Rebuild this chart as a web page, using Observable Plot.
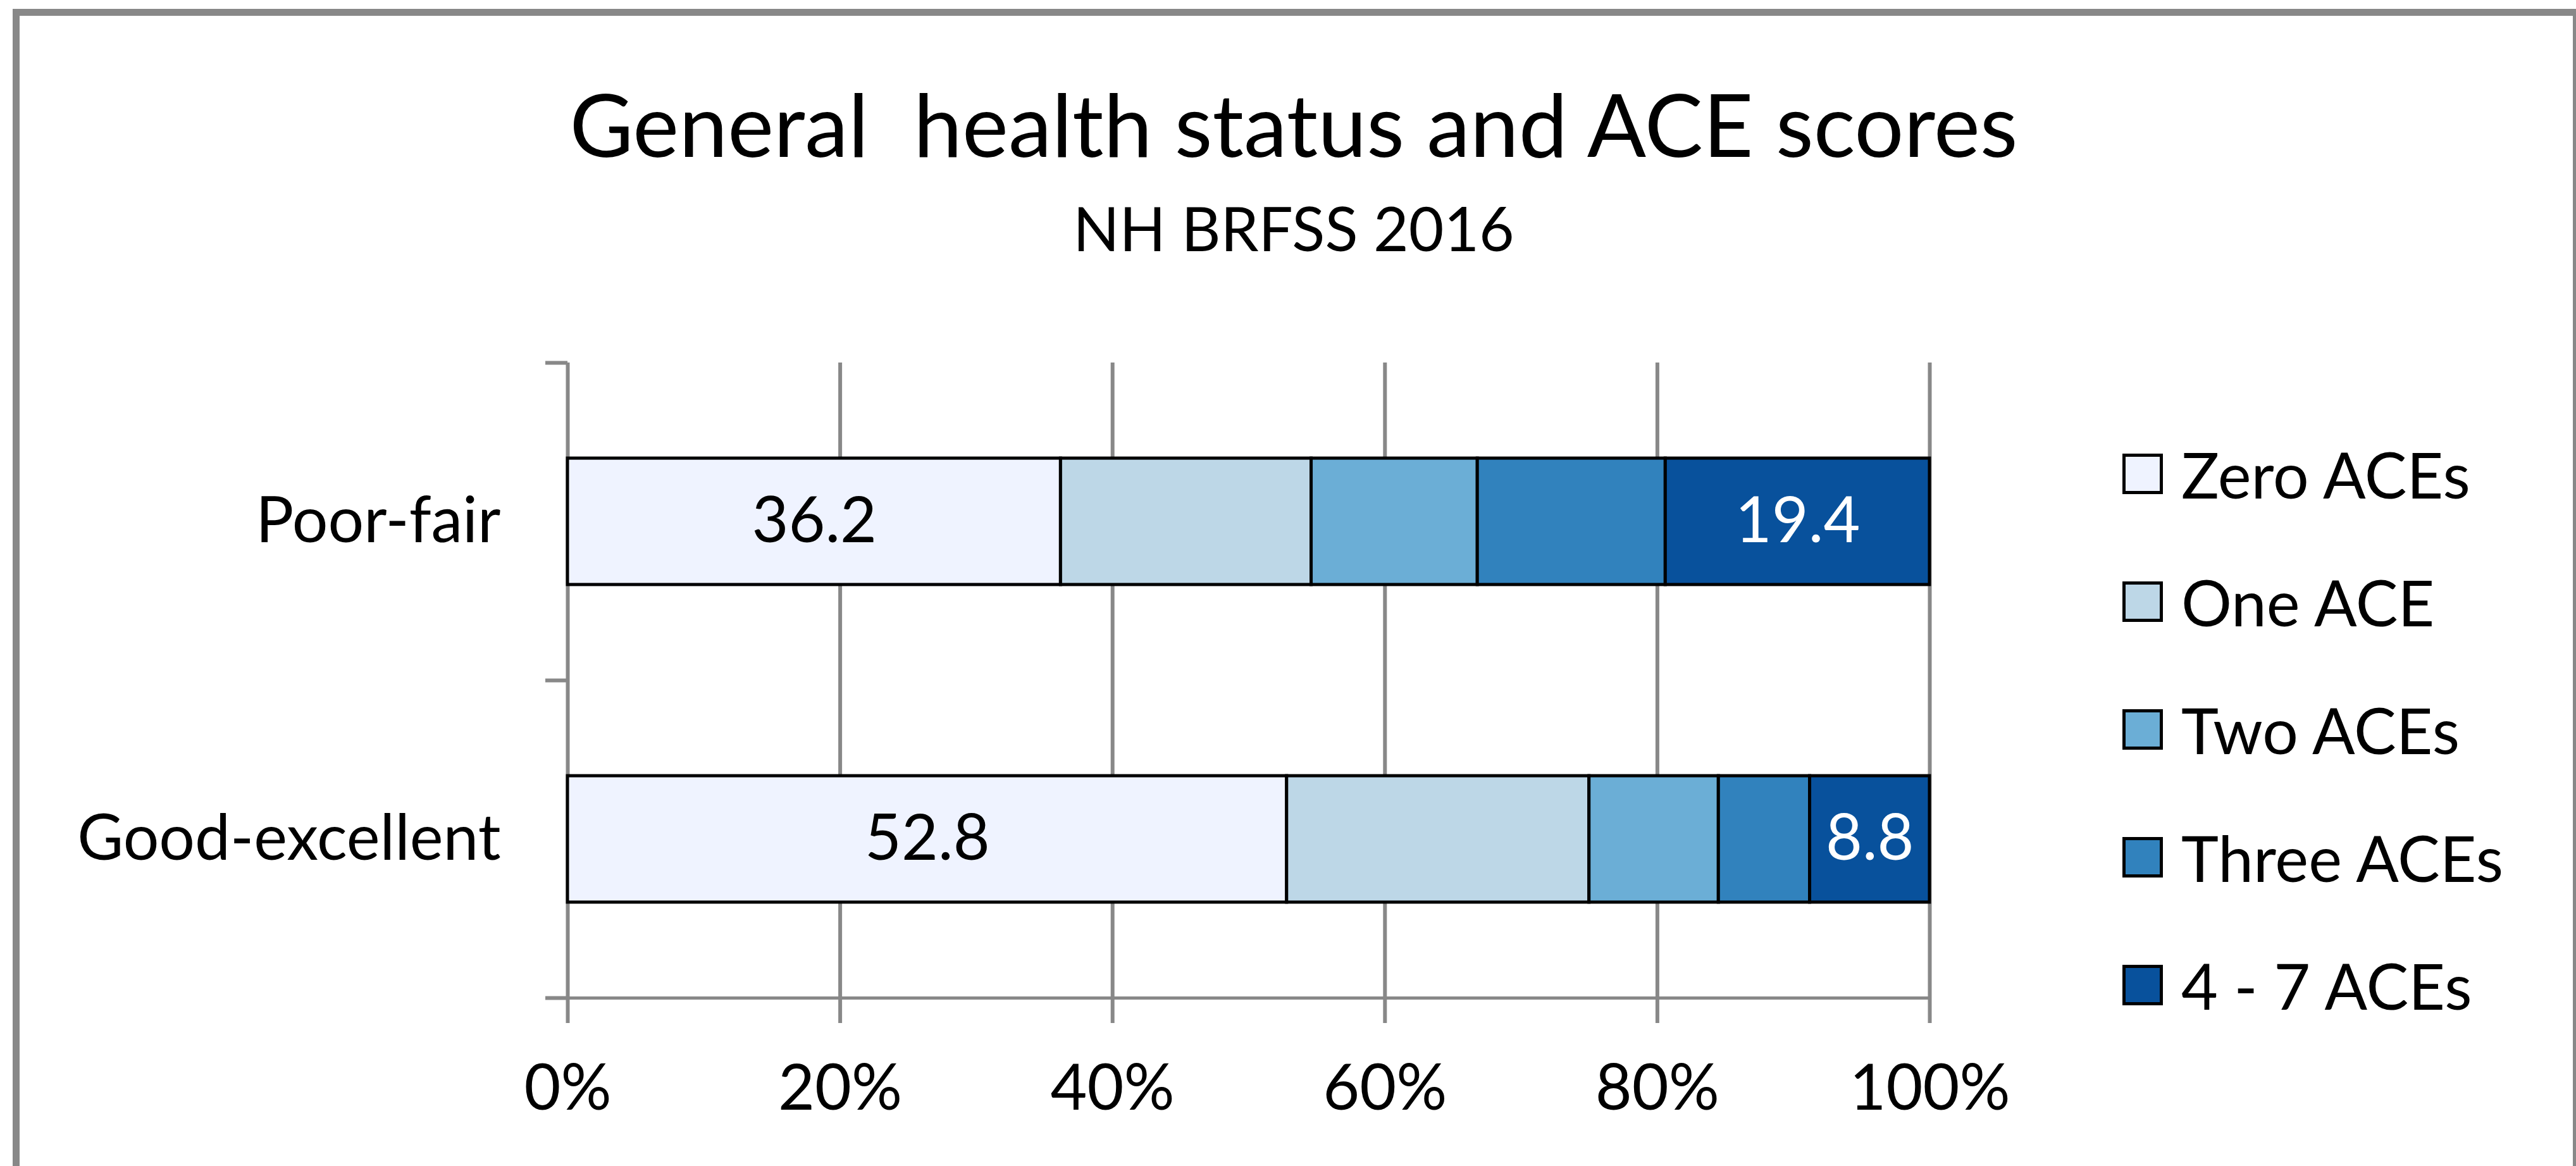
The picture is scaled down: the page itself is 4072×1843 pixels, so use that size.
<!DOCTYPE html>
<html>
<head>
<meta charset="utf-8">
<script src="https://cdn.jsdelivr.net/npm/d3@7"></script>
<script src="https://cdn.jsdelivr.net/npm/@observablehq/plot@0.6"></script>
<style>
  html, body { margin: 0; padding: 0; background: #fff; }
  body { width: 4072px; height: 1843px; overflow: hidden; position: relative; font-family: Lato, "Open Sans", sans-serif; color: #000; }
  #frame { position: absolute; left: 20px; top: 14px; width: 4058px; height: 1900px; box-sizing: border-box; border: 11px solid #888; }
  #title { position: absolute; left: 0; width: 4090px; top: 126px; text-align: center; font-size: 138px; line-height: 138px; white-space: pre; }
  #subtitle { position: absolute; left: 0; width: 4090px; top: 312px; text-align: center; font-size: 96px; line-height: 96px; }
  #chart { position: absolute; left: 0; top: 480px; }
  #chart svg { background: transparent !important; }
  #legend { position: absolute; left: 3355px; top: 0; }
  .item { position: absolute; left: 0; display: flex; align-items: center; white-space: nowrap; }
  .sw { width: 64px; height: 64px; box-sizing: border-box; border: 5px solid #000; flex: none; }
  .lab { margin-left: 29px; font-size: 100px; line-height: 100px; }
</style>
</head>
<body>
<div id="frame"></div>
<div id="title">General  health status and ACE scores</div>
<div id="subtitle">NH BRFSS 2016</div>
<div id="chart"></div>
<div id="legend"></div>
<script>
// ---- data ----
const categories = ["Poor-fair", "Good-excellent"];
const series = ["Zero ACEs", "One ACE", "Two ACEs", "Three ACEs", "4 - 7 ACEs"];
const poorFair = [36.2, 18.4, 12.2, 13.8, 19.4];
const goodExcellent = [52.8, 22.2, 9.5, 6.7, 8.8];
const labelledSeries = ["Zero ACEs", "4 - 7 ACEs"];
const xTicks = [0, 20, 40, 60, 80, 100];
const colors = ["#eff3ff", "#bdd7e7", "#6baed6", "#3182bd", "#08519c"];

// ---- build table ----
const valuesByCategory = [poorFair, goodExcellent];
const rows = [];
categories.forEach((cat, ci) => {
  const vals = valuesByCategory[ci];
  const ends = d3.cumsum(vals);
  vals.forEach((v, si) => {
    rows.push({category: cat, row: ci, series: series[si], value: v, x1: ends[si] - v, x2: ends[si]});
  });
});

const half = 0.199; // half bar thickness in row units
const colorOf = new Map(series.map((s, i) => [s, colors[i]]));

const plot = Plot.plot({
  width: 3150,
  height: 1363,
  marginLeft: 897,
  marginRight: 100,
  marginTop: 93,
  marginBottom: 266,
  style: {background: "transparent", fontFamily: "Lato, 'Open Sans', sans-serif", color: "#000", overflow: "visible"},
  x: {domain: [0, 100]},
  y: {domain: [0, categories.length], reverse: true},
  color: {domain: series, range: colors},
  marks: [
    Plot.ruleX(xTicks, {stroke: "#888", strokeWidth: 6}),
    Plot.ruleY([categories.length], {stroke: "#888", strokeWidth: 5}),
    Plot.axisX({ticks: xTicks, tickSize: 40, tickPadding: 65, tickFormat: d => d + "%", fontSize: 100, stroke: "#888", strokeWidth: 6, fill: "#000", label: null}),
    Plot.axisY({ticks: d3.range(categories.length + 1), tickSize: 35, tickFormat: () => "", stroke: "#888", strokeWidth: 6, label: null}),
    Plot.axisY({ticks: categories.map((c, i) => i + 0.5), tickSize: 0, tickPadding: 106, tickFormat: d => categories[Math.floor(d)], fontSize: 100, fill: "#000", label: null}),
    Plot.rect(rows, {x1: "x1", x2: "x2", y1: d => d.row + 0.5 - half, y2: d => d.row + 0.5 + half, fill: "series", stroke: "#000", strokeWidth: 5}),
    Plot.text(rows.filter(d => labelledSeries.includes(d.series)), {
      x: d => (d.x1 + d.x2) / 2,
      y: d => d.row + 0.5,
      text: d => d.value.toFixed(1),
      fill: d => d3.lab(colorOf.get(d.series)).l < 50 ? "#fff" : "#000",
      fontSize: 100
    })
  ]
});
document.getElementById("chart").appendChild(plot);

// ---- legend ----
const legend = document.getElementById("legend");
const legendTop = 749, legendStep = 202;
series.forEach((s, i) => {
  const item = document.createElement("div");
  item.className = "item";
  item.style.top = (legendTop + i * legendStep - 50) + "px";
  item.style.height = "100px";
  const sw = document.createElement("div");
  sw.className = "sw";
  sw.style.background = colors[i];
  const lab = document.createElement("span");
  lab.className = "lab";
  lab.textContent = s;
  item.appendChild(sw);
  item.appendChild(lab);
  legend.appendChild(item);
});
</script>
</body>
</html>
